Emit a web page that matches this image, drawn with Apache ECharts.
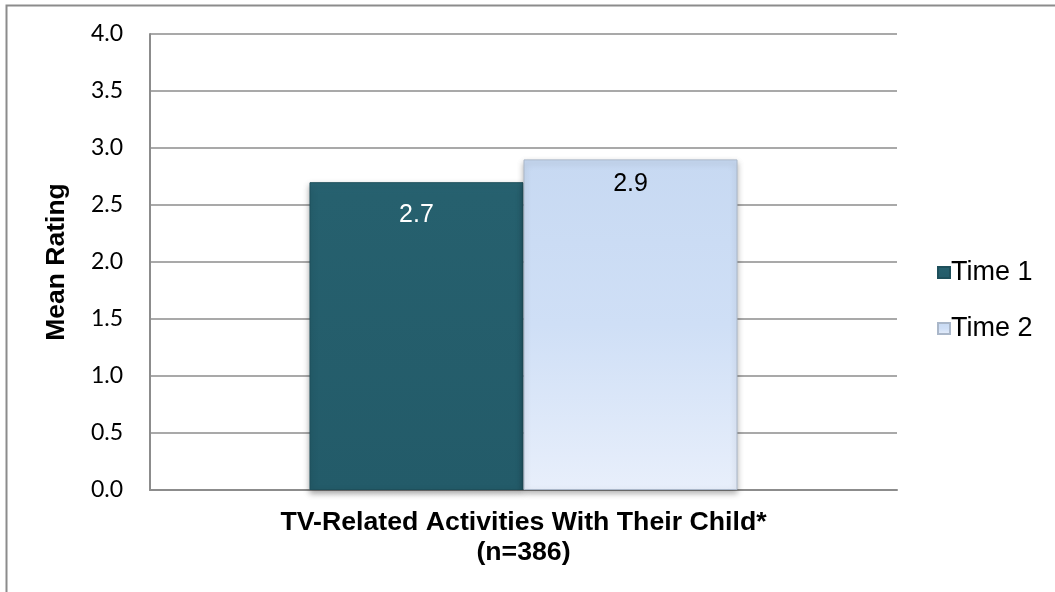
<!DOCTYPE html>
<html>
<head>
<meta charset="utf-8">
<script src="https://cdn.jsdelivr.net/npm/echarts@6/dist/echarts.min.js"></script>
<style>
  html, body { margin: 0; padding: 0; background: #fff; }
  #chart { width: 1055px; height: 592px; }
</style>
</head>
<body>
<div id="chart"></div>
<script>
// Mean rating of TV-related activities with their child, two time points
const categories = ['TV-Related Activities With Their Child*\n(n=386)'];
const seriesNames = ['Time 1', 'Time 2'];
const time1Values = [2.7];
const time2Values = [2.9];
const yTicks = { min: 0, max: 4, interval: 0.5 };

const chart = echarts.init(document.getElementById('chart'));

const labelFont = 'Liberation Sans, Arial, sans-serif';

chart.setOption({
  animation: false,
  backgroundColor: '#ffffff',
  graphic: [{
    type: 'rect',
    shape: { x: 6.5, y: 5.5, width: 1200, height: 800 },
    style: { fill: 'none', stroke: '#8c8c8c', lineWidth: 2 },
    silent: true
  }],
  grid: { left: 150, top: 34, width: 747, height: 456 },
  legend: {
    orient: 'vertical',
    left: 932,
    top: 254,
    itemWidth: 12,
    itemHeight: 11,
    itemGap: 29,
    icon: 'rect',
    textStyle: { fontFamily: labelFont, fontSize: 27, color: '#000', padding: [0, 0, 0, -4] },
    data: seriesNames
  },
  xAxis: {
    type: 'category',
    data: categories,
    axisLine: { lineStyle: { color: '#8c8c8c', width: 2 } },
    axisTick: { show: false },
    axisLabel: {
      margin: 18,
      fontFamily: labelFont,
      fontWeight: 'bold',
      fontSize: 26.7,
      lineHeight: 30,
      color: '#000'
    }
  },
  yAxis: {
    type: 'value',
    min: yTicks.min,
    max: yTicks.max,
    interval: yTicks.interval,
    name: 'Mean Rating',
    nameLocation: 'middle',
    nameGap: 80,
    nameTextStyle: { fontFamily: labelFont, fontWeight: 'bold', fontSize: 26.5, color: '#000' },
    axisLine: { show: true, lineStyle: { color: '#8c8c8c', width: 2 } },
    axisTick: { show: false },
    axisLabel: {
      margin: 27,
      fontFamily: 'Lato, Carlito, sans-serif',
      fontSize: 23,
      color: '#000',
      formatter: v => v.toFixed(1)
    },
    splitLine: { lineStyle: { color: '#8c8c8c', width: 1.5 } }
  },
  series: [
    {
      name: seriesNames[0],
      type: 'bar',
      data: time1Values,
      barGap: '0%',
      barCategoryGap: '42.7%',
      itemStyle: {
        color: new echarts.graphic.LinearGradient(0, 0, 0, 1, [
          { offset: 0, color: '#2a6675' },
          { offset: 0.04, color: '#26606e' },
          { offset: 1, color: '#235b69' }
        ]),
        borderColor: '#1e4f5b',
        borderWidth: 1,
        shadowColor: 'rgba(0,0,0,0.35)',
        shadowBlur: 6,
        shadowOffsetY: 3
      },
      label: {
        show: true,
        position: 'insideTop',
        distance: 20,
        fontFamily: labelFont,
        fontSize: 25,
        color: '#ffffff',
        formatter: p => p.value.toFixed(1)
      }
    },
    {
      name: seriesNames[1],
      type: 'bar',
      data: time2Values,
      itemStyle: {
        color: new echarts.graphic.LinearGradient(0, 0, 0, 1, [
          { offset: 0, color: '#c7d9f2' },
          { offset: 0.5, color: '#cfdff6' },
          { offset: 1, color: '#e8effb' }
        ]),
        borderColor: '#aab7c9',
        borderWidth: 1,
        shadowColor: 'rgba(0,0,0,0.3)',
        shadowBlur: 6,
        shadowOffsetY: 3
      },
      label: {
        show: true,
        position: 'insideTop',
        distance: 12,
        fontFamily: labelFont,
        fontSize: 25,
        color: '#000000',
        formatter: p => p.value.toFixed(1)
      }
    }
  ]
});
</script>
</body>
</html>
